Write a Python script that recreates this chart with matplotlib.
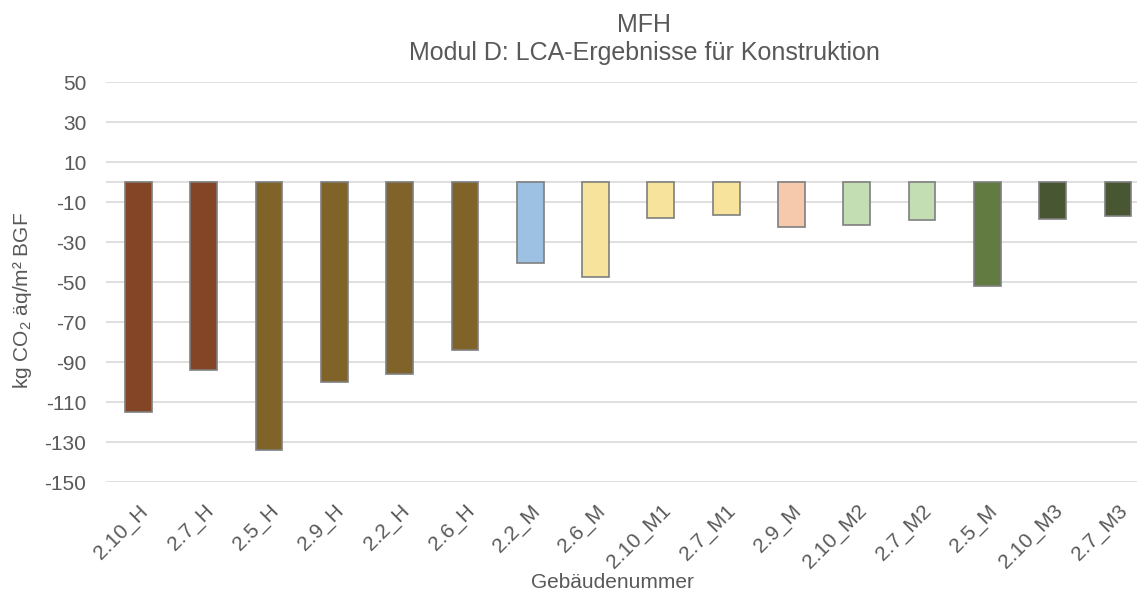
import matplotlib.pyplot as plt
import numpy as np

plt.rcParams['font.family'] = ['Liberation Sans', 'DejaVu Sans']
plt.rcParams['mathtext.fontset'] = 'custom'
plt.rcParams['mathtext.rm'] = 'Liberation Sans'
plt.rcParams['mathtext.it'] = 'Liberation Sans'

# data
gebaeude = ['2.10_H', '2.7_H', '2.5_H', '2.9_H', '2.2_H', '2.6_H', '2.2_M', '2.6_M',
            '2.10_M1', '2.7_M1', '2.9_M', '2.10_M2', '2.7_M2', '2.5_M', '2.10_M3', '2.7_M3']
modul_d = [-115, -94, -134, -100, -96, -84, -40.5, -47.5,
           -18, -16.5, -22.3, -21.3, -19, -52.2, -18.5, -16.8]
farben = ['#844426', '#844426', '#7f6329', '#7f6329', '#7f6329', '#7f6329', '#9dc1e3', '#f8e39c',
          '#f8e39c', '#f8e39c', '#f6c9ac', '#c4deb3', '#c4deb3', '#627b40', '#485731', '#485731']
yticks = [50, 30, 10, -10, -30, -50, -70, -90, -110, -130, -150]

txt = '#595959'
W, H = 1137, 593
fig = plt.figure(figsize=(W / 100, H / 100), dpi=100)
# plot area is cut off at the right edge in the original
ax = fig.add_axes([105.7 / W, (H - 482) / H, (1150.7 - 105.7) / W, 400 / H])

x = np.arange(len(gebaeude))
ax.bar(x, modul_d, width=0.41, color=farben, edgecolor='#7f7f7f', linewidth=1.2, zorder=3)

ax.set_xlim(-0.5, len(gebaeude) - 0.5)
ax.set_ylim(-150, 50)
ax.set_yticks(yticks)
ax.set_yticklabels([str(v) for v in yticks])
ax.grid(axis='y', color='#d9d9d9', linewidth=1.2, zorder=0)
ax.axhline(0, color='#d9d9d9', linewidth=1.2, zorder=1)
for s in ax.spines.values():
    s.set_visible(False)
ax.tick_params(axis='both', length=0, labelsize=15, colors=txt)
ax.tick_params(axis='y', pad=14)
ax.set_xticks(x)
ax.set_xticklabels(gebaeude, rotation=45, ha='right', rotation_mode='anchor')
ax.tick_params(axis='x', pad=14)

fig.text(644 / W, 1 - 25 / H, 'MFH', ha='center', va='center', fontsize=18, color=txt)
fig.text(644 / W, 1 - 53 / H, 'Modul D: LCA-Ergebnisse für Konstruktion', ha='center',
         va='center', fontsize=18, color=txt)
fig.text(612 / W, 1 - 582 / H, 'Gebäudenummer', ha='center', va='center', fontsize=15, color=txt)
fig.text(23 / W, 1 - 300 / H, 'kg CO$_2$ äq/m² BGF', ha='center', va='center', rotation=90,
         fontsize=15, color=txt)

fig.savefig('out.png', dpi=100)
